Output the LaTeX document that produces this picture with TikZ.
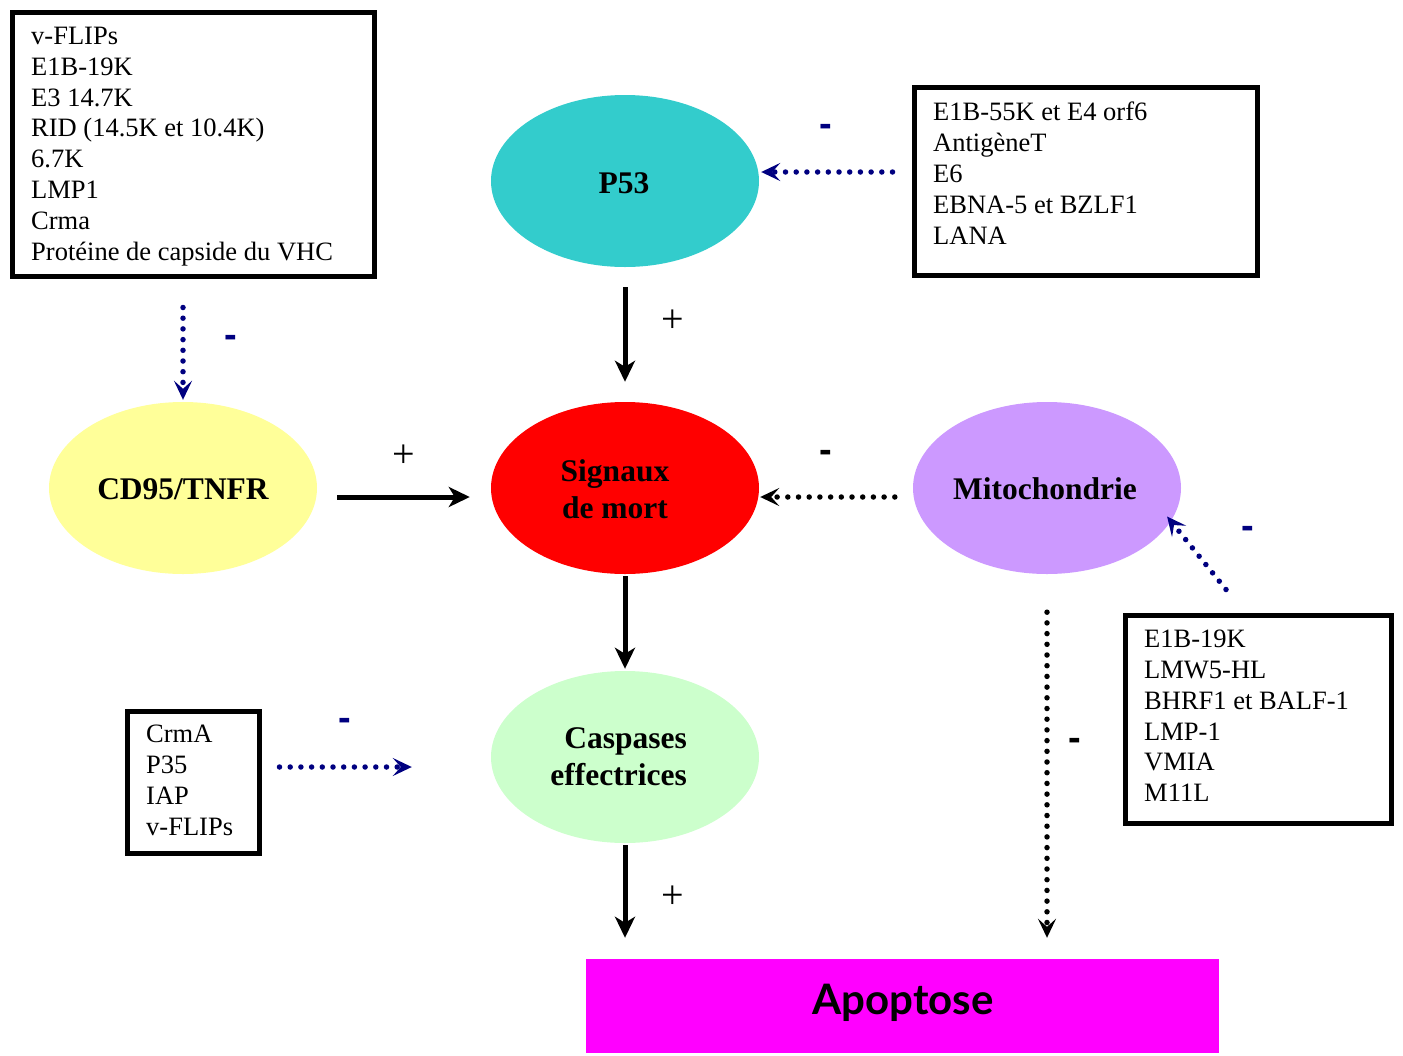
\documentclass[tikz,border=0pt]{standalone}
\usepackage{fontspec}
\setmainfont{Liberation Serif}
\newfontfamily\apofont{Lato}
\newfontfamily\signfont{Liberation Sans}
\usetikzlibrary{shapes.geometric,arrows.meta}

\definecolor{inhblue}{RGB}{0,0,128}
\definecolor{pteal}{RGB}{51,204,204}
\definecolor{cdyellow}{RGB}{255,255,153}
\definecolor{sigred}{RGB}{255,0,0}
\definecolor{mitoviolet}{RGB}{204,153,255}
\definecolor{caspgreen}{RGB}{204,255,204}
\definecolor{apomagenta}{RGB}{255,0,255}

\begin{document}
\begin{tikzpicture}[x=1pt,y=-1pt,
  blob/.style={ellipse, minimum width=268pt, minimum height=172pt, inner sep=0pt},
  blobtext/.style={font=\fontsize{31.5}{37}\selectfont\bfseries, inner sep=0pt},
  listbox/.style={draw=black, line width=5pt, fill=white, inner sep=0pt},
  listtext/.style={font=\fontsize{26.5}{30.8}\selectfont, align=left, inner sep=0pt, anchor=north west},
  act/.style={draw=black, line width=5pt, -{Stealth[length=21pt,width=20pt,inset=6pt]}},
  inh/.style={line width=5.5pt, dash pattern=on 0pt off 10.7pt, line cap=round,
              -{Stealth[length=19pt,width=18pt,inset=8pt]}},
  inhnavy/.style={inh, draw=inhblue},
  inhblack/.style={inh, draw=black},
  plussign/.style={font=\fontsize{40}{40}\selectfont, inner sep=0pt},
  minussign/.style={font=\signfont\fontsize{38}{38}\selectfont\bfseries, inner sep=0pt}
]
\useasboundingbox (0,0) rectangle (1403,1055);

% pathway nodes
\node[blob, fill=pteal] (p53) at (625,181) {};
\node[blobtext] (p53t) at (624,183) {P53};
\node[blob, fill=cdyellow] (cd95) at (183,488) {};
\node[blobtext] (cd95t) at (183,489) {CD95/TNFR};
\node[blob, fill=sigred] (sig) at (625,488) {};
\node[blobtext, align=center] (sigt) at (615,489) {Signaux\\de mort};
\node[blob, fill=mitoviolet] (mito) at (1047,488) {};
\node[blobtext] (mitot) at (1045,489) {Mitochondrie};
\node[blob, fill=caspgreen] (casp) at (625,757) {};
\node[blobtext, align=right, anchor=east] (caspt) at (687,757) {Caspases\\effectrices};
\node[fill=apomagenta, minimum width=633pt, minimum height=94pt, inner sep=0pt] (apo) at (902.5,1006) {};
\node[font=\apofont\fontsize{42}{42}\selectfont\bfseries, inner sep=0pt] (apot) at (903,1003) {Apoptose};

% inhibitor lists
\node[listbox, minimum width=362pt, minimum height=264pt] (vl1) at (193,144) {};
\node[listtext] (vl1t) at ([xshift=21.5pt,yshift=-17.5pt]vl1.north west)
  {v-FLIPs\\E1B-19K\\E3 14.7K\\RID (14.5K et 10.4K)\\6.7K\\LMP1\\Crma\\Prot\'eine de capside du VHC};
\node[listbox, minimum width=343pt, minimum height=188pt] (vl2) at (1085.5,181) {};
\node[listtext] (vl2t) at ([xshift=21.5pt,yshift=-17.5pt]vl2.north west)
  {E1B-55K et E4 orf6\\Antig\`eneT\\E6\\EBNA-5 et BZLF1\\LANA};
\node[listbox, minimum width=266pt, minimum height=208pt] (vl3) at (1258,719) {};
\node[listtext] (vl3t) at ([xshift=21.5pt,yshift=-17.5pt]vl3.north west)
  {E1B-19K\\LMW5-HL\\BHRF1 et BALF-1\\LMP-1\\VMIA\\M11L};
\node[listbox, minimum width=132pt, minimum height=142pt] (vl4) at (193,782) {};
\node[listtext] (vl4t) at ([xshift=21.5pt,yshift=-16.5pt]vl4.north west)
  {CrmA\\P35\\IAP\\v-FLIPs};

% activating connectors
\draw[act, shorten <=20pt, shorten >=20pt] (p53.south) -- (sig.north);
\draw[act, shorten <=20pt, shorten >=21pt] ([yshift=-9pt]cd95.east) -- ([yshift=-9pt]sig.west);
\draw[act, shorten <=2pt, shorten >=2pt] (sig.south) -- (casp.north);
\draw[act, shorten <=2pt, shorten >=21pt] (casp.south) -- (casp.south |- apo.north);

% inhibiting connectors
\draw[inhnavy] ([xshift=-19pt,yshift=9pt]vl2.west) -- ([xshift=2pt,yshift=9pt]p53.east);
\draw[inhnavy, shorten >=2pt] ([xshift=-10pt,yshift=-29pt]vl1.south) -- (cd95.north);
\draw[inhblack] ([xshift=-18pt,yshift=-9pt]mito.west) -- ([xshift=1pt,yshift=-9pt]sig.east);
\draw[inhnavy, shorten >=-6pt] ([xshift=-32pt,yshift=23pt]vl3.north) -- (mito.-15);
\draw[inhnavy, shorten >=79pt] ([xshift=18pt,yshift=15pt]vl4.east) -- ([yshift=-10pt]casp.west);
\draw[inhblack, shorten <=38pt, shorten >=21pt] (mito.south) -- (mito.south |- apo.north);

% signs
\node[plussign] (s1) at (673,321) {+};
\node[plussign] (s2) at (404,456) {+};
\node[plussign] (s3) at (673,897) {+};
\node[minussign, text=inhblue] (s4) at (826,130) {-};
\node[minussign, text=inhblue] (s5) at (231,341) {-};
\node[minussign, text=inhblue] (s6) at (1248,532) {-};
\node[minussign, text=inhblue] (s7) at (345,724) {-};
\node[minussign] (s8) at (826,456) {-};
\node[minussign] (s9) at (1075,744) {-};
\end{tikzpicture}
\end{document}
